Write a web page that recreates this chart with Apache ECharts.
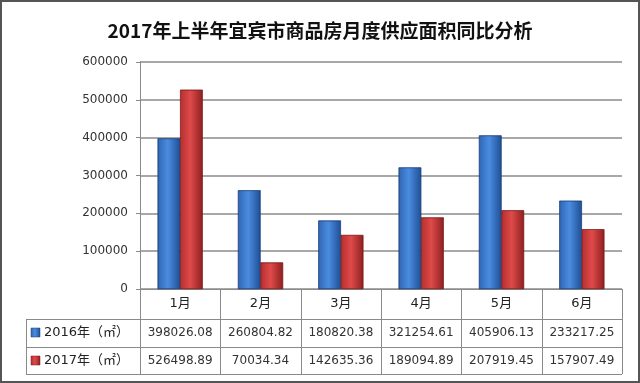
<!DOCTYPE html>
<html>
<head>
<meta charset="utf-8">
<script src="https://cdn.jsdelivr.net/npm/echarts@6/dist/echarts.min.js"></script>
<style>
html,body{margin:0;padding:0;background:#fff;}
#main{width:640px;height:383px;}
</style>
</head>
<body>
<div id="main"></div>
<script>
const titleText = '2017年上半年宜宾市商品房月度供应面积同比分析';
const categories = ['1月', '2月', '3月', '4月', '5月', '6月'];
const seriesNames = ['2016年（㎡）', '2017年（㎡）'];
const values2016 = [398026.08, 260804.82, 180820.38, 321254.61, 405906.13, 233217.25];
const values2017 = [526498.89, 70034.34, 142635.36, 189094.89, 207919.45, 157907.49];
const yMin = 0, yMax = 600000, yStep = 100000;

const FONT = 'DejaVu Sans';
const MIXFONT = '"DejaVu Sans", "Noto Sans CJK SC"';
function grad(c1, c2, c3) {
  return new echarts.graphic.LinearGradient(0, 0, 1, 0, [
    {offset: 0, color: c1}, {offset: 0.45, color: c2}, {offset: 1, color: c3}
  ]);
}
const blueFill = grad('#2f66b3', '#4a8ce0', '#1f4f95');
const redFill = grad('#b52f2f', '#df4a4a', '#8e2020');

const chart = echarts.init(document.getElementById('main'), null, {renderer: 'canvas'});
const GRID = {left: 140, right: 18, top: 62, bottom: 94};
chart.setOption({
  animation: false,
  backgroundColor: '#fff',
  title: {
    text: titleText, left: 'center', top: 16,
    textStyle: {fontFamily: 'Noto Sans CJK SC', fontSize: 19, fontWeight: 'bold', color: '#111'}
  },
  grid: GRID,
  xAxis: {
    type: 'category', data: categories,
    axisLine: {lineStyle: {color: '#8a8a8a', width: 1}},
    axisTick: {show: false},
    axisLabel: {show: false}
  },
  yAxis: {
    type: 'value', min: yMin, max: yMax, interval: yStep,
    axisLine: {show: true, lineStyle: {color: '#8a8a8a', width: 1}},
    axisTick: {show: true, length: 4, lineStyle: {color: '#8a8a8a'}},
    axisLabel: {fontFamily: FONT, fontSize: 12, color: '#333', margin: 12, formatter: v => String(v)},
    splitLine: {lineStyle: {color: '#a8a8a8', width: 2}}
  },
  series: [
    {name: seriesNames[0], type: 'bar', data: values2016, barGap: '0%', barCategoryGap: '44%',
     itemStyle: {color: blueFill, borderColor: '#1b3f78', borderWidth: 0.5}},
    {name: seriesNames[1], type: 'bar', data: values2017,
     itemStyle: {color: redFill, borderColor: '#7a1a1a', borderWidth: 0.5}}
  ]
});

// Data table under the plot, aligned to the category axis
const c0 = chart.convertToPixel({xAxisIndex: 0}, categories[0]);
const c1 = chart.convertToPixel({xAxisIndex: 0}, categories[1]);
const band = c1 - c0;
const yBase = chart.convertToPixel({yAxisIndex: 0}, yMin);
const rowH = [30, 28, 27];
const rowTop = [yBase, yBase + rowH[0], yBase + rowH[0] + rowH[1]];
const tableBottom = rowTop[2] + rowH[2];
const leftX = 26;
const plotLeft = c0 - band / 2;
const plotRight = c0 + band * (categories.length - 0.5);
const lineStyle = {stroke: '#8a8a8a', lineWidth: 1};
const g = [];
function hline(x1, x2, y) { g.push({type: 'line', shape: {x1, y1: Math.round(y) + 0.5, x2, y2: Math.round(y) + 0.5}, style: lineStyle, silent: true}); }
function vline(x, y1, y2) { g.push({type: 'line', shape: {x1: Math.round(x) + 0.5, y1, x2: Math.round(x) + 0.5, y2}, style: lineStyle, silent: true}); }
hline(leftX, plotRight, rowTop[1]);
hline(leftX, plotRight, rowTop[2]);
hline(leftX, plotRight, tableBottom);
vline(leftX, rowTop[1], tableBottom);
for (let i = 0; i <= categories.length; i++) vline(plotLeft + band * i, yBase, tableBottom);
const textBase = {fontFamily: MIXFONT, fontSize: 12, fill: '#333', align: 'center', verticalAlign: 'middle'};
categories.forEach((c, i) => {
  const cx = chart.convertToPixel({xAxisIndex: 0}, c);
  g.push({type: 'text', x: cx, y: rowTop[0] + rowH[0] / 2, style: Object.assign({}, textBase, {text: c, fontSize: 13, fill: '#222'}), silent: true});
  g.push({type: 'text', x: cx, y: rowTop[1] + rowH[1] / 2, style: Object.assign({text: values2016[i].toFixed(2)}, textBase), silent: true});
  g.push({type: 'text', x: cx, y: rowTop[2] + rowH[2] / 2, style: Object.assign({text: values2017[i].toFixed(2)}, textBase), silent: true});
});
[[seriesNames[0], blueFill, '#1b3f78'], [seriesNames[1], redFill, '#7a1a1a']].forEach((s, k) => {
  const cy = rowTop[k + 1] + rowH[k + 1] / 2;
  g.push({type: 'rect', shape: {x: 31, y: Math.round(cy) - 5, width: 9, height: 9}, style: {fill: s[1], stroke: s[2], lineWidth: 0.5}, silent: true});
  g.push({type: 'text', x: 44, y: cy, style: {text: s[0], fontFamily: MIXFONT, fontSize: 13, fill: '#222', align: 'left', verticalAlign: 'middle'}, silent: true});
});
// outer frame
g.push({type: 'rect', shape: {x: 1, y: 1, width: 638, height: 381}, style: {fill: 'none', stroke: '#555', lineWidth: 2}, silent: true});
chart.setOption({graphic: g});
</script>
</body>
</html>
